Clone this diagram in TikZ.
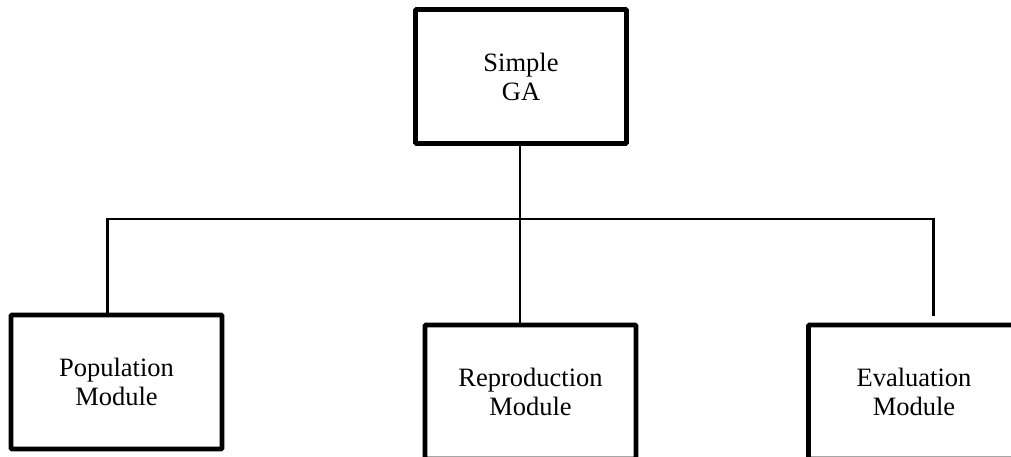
\documentclass[tikz,border=0pt]{standalone}
\usepackage{fontspec}
\setmainfont{Liberation Serif}
\begin{document}
\begin{tikzpicture}[x=1pt,y=-1pt,
  modbox/.style={draw=black, line width=4.7pt, fill=white, minimum width=211pt, minimum height=134pt,
    inner sep=0pt, align=center, font=\fontsize{26.5}{29}\selectfont, rounded corners=1pt},
  link/.style={draw=black, line width=2.7pt, line cap=butt},
  stem/.style={draw=black, line width=2pt}]
\useasboundingbox (0,0) rectangle (1011,456);
\clip (0,0) rectangle (1011,456);
\node[modbox] (ga) at (521,76.5) {Simple\\GA};
\node[modbox] (pop) at (116.5,382) {\raisebox{-2.5pt}{\parbox{200pt}{\centering Population\\Module}}};
\node[modbox] (rep) at (530.5,392) {\raisebox{-2.5pt}{\parbox{200pt}{\centering Reproduction\\Module}}};
\node[modbox] (eva) at (914,392) {\raisebox{2pt}{\parbox{200pt}{\centering Evaluation\\Module}}};
\coordinate (jl) at (107.3,219);
\coordinate (jr) at (933.3,219);
\coordinate (er) at (933.3,315.5);
\draw[stem] (520,146) -- (520,323);
\draw[link] (jl |- pop.north) -- (jl) -- (jr) -- (er);
\end{tikzpicture}
\end{document}
